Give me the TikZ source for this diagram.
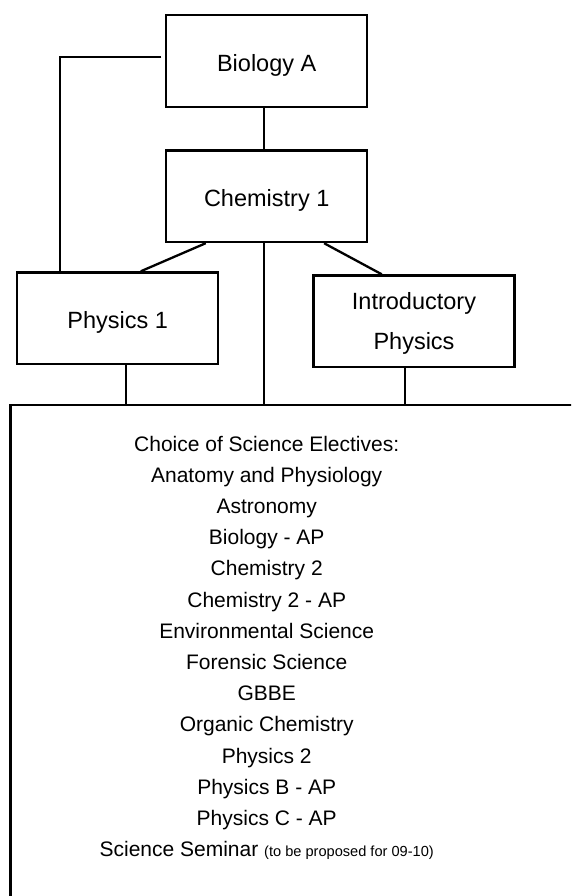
\documentclass[tikz,border=0pt]{standalone}
\usepackage{fontspec}
\setmainfont{Liberation Sans}
\usetikzlibrary{positioning}

\begin{document}
\begin{tikzpicture}[
                            x=1pt, y=-1pt,
                            node distance=135.3pt,
                            course/.style={draw, rectangle, line width=2.3pt, inner sep=0pt, minimum width=201pt, minimum height=91.5pt, align=center, text depth=0pt, font=\fontsize{23.5}{39.7}\selectfont},
                            oneline/.style={text height=21pt},
                            link/.style={line width=2.3pt}
                            ]

                            \path[use as bounding box, clip] (0,0) rectangle (571,896);

                            \node [course, oneline] (bio) at (266.7,61) {Biology A};
                            \node [course, oneline, below of = bio] (chem) {Chemistry 1};
                            \node [course, oneline] (phys1) at (117.7,318.2) {Physics 1};
                            \node [course] (intro) at (414,321.2) {Introductory\\Physics};

                            \node [draw, rectangle, line width=2.3pt, anchor=north west, minimum width=700pt, minimum height=600pt] (elect) at (9.3,403.7) {};
                            \node [anchor=north, inner sep=0pt, align=center, text depth=0pt, font=\fontsize{21}{31.2}\selectfont] (list) at ([yshift=-31.9pt]elect.north -| chem.center) {Choice of Science Electives:\\Anatomy and Physiology\\Astronomy\\Biology - AP\\Chemistry 2\\Chemistry 2 - AP\\Environmental Science\\Forensic Science\\GBBE\\Organic Chemistry\\Physics 2\\Physics B - AP\\Physics C - AP\\Science Seminar {\fontsize{14.6}{16}\selectfont (to be proposed for 09-10)}};

                            \coordinate (node1) at ([xshift=-2.4pt]chem.south);
                            \coordinate (node2) at ([xshift=8.6pt]phys1.south);
                            \coordinate (node3) at ([xshift=-9pt]intro.south);

                            \draw[link] ([xshift=-2.4pt]bio.south) -- ([xshift=-2.4pt]chem.north);
                            \draw[link] ([xshift=-3.7pt,yshift=4.3pt]bio.west) -| ([xshift=44pt]phys1.north west);
                            \draw[link] ([xshift=40.7pt]chem.south west) -- ([xshift=124.7pt]phys1.north west);
                            \draw[link] ([xshift=159pt]chem.south west) -- ([xshift=69.4pt]intro.north west);
                            \draw[link] (node1) -- (node1 |- elect.north);
                            \draw[link] (node2) -- (node2 |- elect.north);
                            \draw[link] (node3) -- (node3 |- elect.north);

                        \end{tikzpicture}
\end{document}
